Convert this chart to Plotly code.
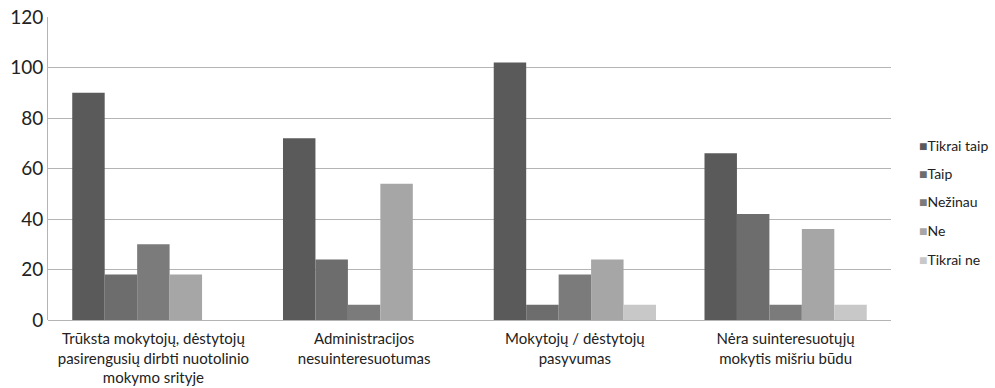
import plotly.graph_objects as go

categories = [
    "Trūksta mokytojų, dėstytojų<br>pasirengusių dirbti nuotolinio<br>mokymo srityje",
    "Administracijos<br>nesuinteresuotumas",
    "Mokytojų / dėstytojų<br>pasyvumas",
    "Nėra suinteresuotųjų<br>mokytis mišriu būdu",
]
series_names = ["Tikrai taip", "Taip", "Nežinau", "Ne", "Tikrai ne"]
tikrai_taip = [90, 72, 102, 66]
taip = [18, 24, 6, 42]
nezinau = [30, 6, 18, 6]
ne = [18, 54, 24, 36]
tikrai_ne = [0, 0, 6, 6]
y_ticks = [0, 20, 40, 60, 80, 100, 120]

series_values = [tikrai_taip, taip, nezinau, ne, tikrai_ne]
colors = ["#5a5a5a", "#6d6d6d", "#7b7b7b", "#a6a6a6", "#c8c8c8"]

FONT = "Lato, 'Open Sans', sans-serif"

fig = go.Figure()
for name, vals, col in zip(series_names, series_values, colors):
    fig.add_trace(go.Bar(
        name=name, x=categories, y=vals,
        marker=dict(color=col, line=dict(width=0)),
        showlegend=False,
    ))

# Legend drawn as coloured squares followed by series names
legend_top = 145
legend_step = 28.5
for i, (name, col) in enumerate(zip(series_names, colors)):
    fig.add_annotation(
        xref="paper", yref="paper",
        x=(917 - 48) / (891 - 48), xanchor="left",
        y=(320 - (legend_top + i * legend_step)) / (320 - 17), yanchor="middle",
        text=f"<span style='color:{col};font-size:14px'>■</span>{name}",
        showarrow=False,
        font=dict(family=FONT, size=14, color="#222222"),
    )

fig.update_layout(
    width=995, height=388,
    margin=dict(l=48, r=104, t=17, b=68),
    paper_bgcolor="white", plot_bgcolor="white",
    barmode="group", bargap=0.23, bargroupgap=0,
    font=dict(family=FONT, color="#222222"),
)
fig.update_xaxes(
    showgrid=False, showline=False, zeroline=False,
    tickfont=dict(family=FONT, size=15, color="#222222"),
    ticks="", ticklabelstandoff=8, automargin=False,
)
fig.update_yaxes(
    range=[0, 120], tickvals=y_ticks,
    showgrid=True, gridcolor="#b4b4b4", gridwidth=1,
    zeroline=True, zerolinecolor="#b4b4b4", zerolinewidth=1,
    showline=True, linecolor="#b4b4b4", linewidth=1,
    ticks="", tickfont=dict(family=FONT, size=19, color="#222222"),
    automargin=False,
)

fig.write_html("out.html")
